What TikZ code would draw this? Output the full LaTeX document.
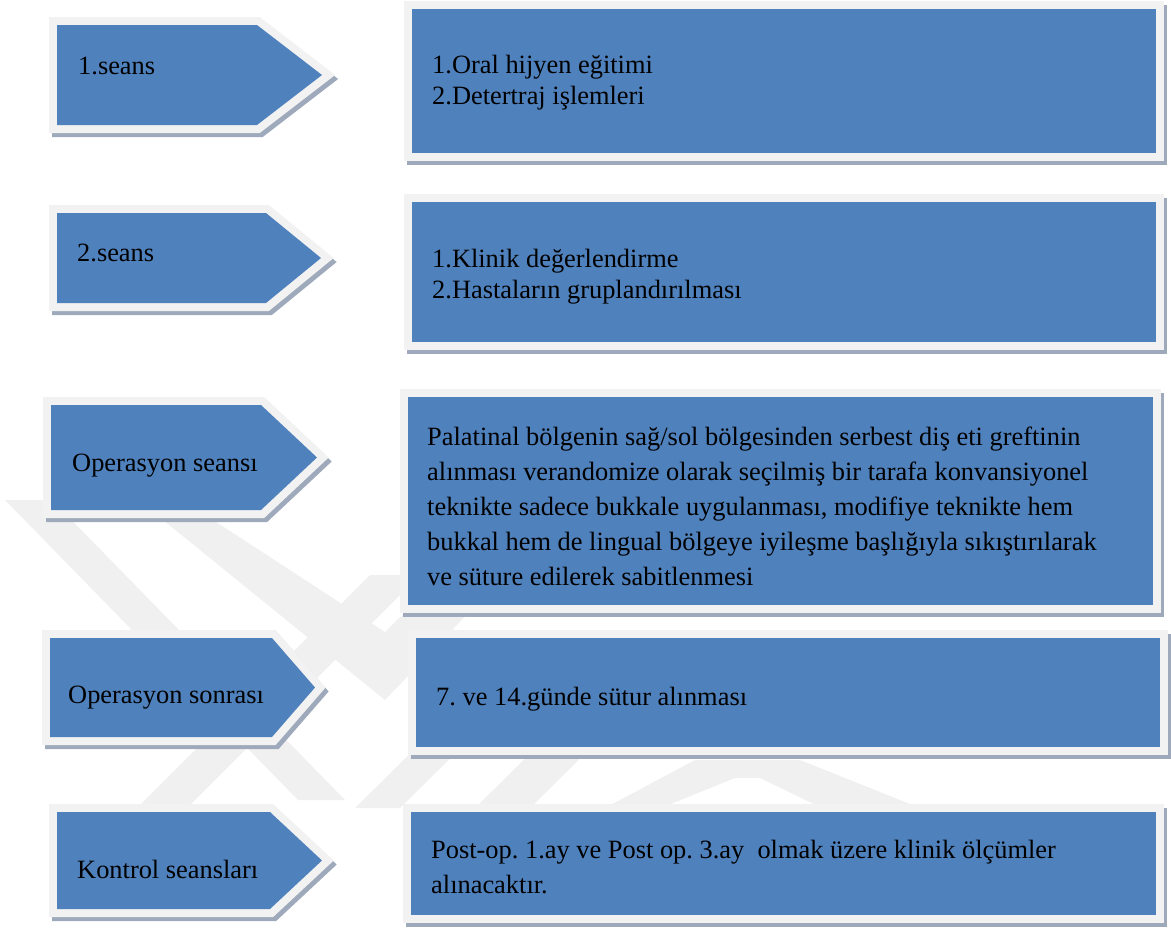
\documentclass[tikz,border=0pt]{standalone}
\usepackage{fontspec}
\setmainfont{Liberation Serif}
\frenchspacing
\definecolor{boxblue}{HTML}{4F81BD}
\definecolor{rim}{HTML}{F2F2F2}
\definecolor{shade}{HTML}{9EAABB}
\definecolor{wm}{HTML}{F0F0F0}
\tikzset{
  panel/.style={fill=boxblue,
    preaction={draw=shade, line width=16pt, line join=miter, transform canvas={xshift=3pt,yshift=-4pt}},
    preaction={draw=rim, line width=16pt, line join=miter}},
  txt/.style={anchor=base west, inner sep=0pt, font=\fontsize{26.4}{30.5}\selectfont, align=left},
  txtwide/.style={txt, font=\fontsize{26.4}{34.8}\selectfont},
}
\newcommand\pentpanel[5]{\path[panel] (#1,#2) -- (#3,#2) -- (#4,{(#2+#5)/2}) -- (#3,#5) -- (#1,#5) -- cycle;}
\newcommand\rectpanel[4]{\path[panel] (#1,#2) rectangle (#3,#4);}
\begin{document}
\begin{tikzpicture}[x=1pt,y=-1pt]
\useasboundingbox (0,0) rectangle (1171,930);
% watermark (faint)
\fill[wm] (5,500) -- (52,500) -- (345,800) -- (298,800) -- cycle;
\fill[wm] (163,520) -- (213,520) -- (385,632) -- (560,460) -- (615,460) -- (385,700) -- cycle;
\fill[wm] (140,805) -- (190,805) -- (420,575) -- (370,575) -- cycle;
\fill[wm] (355,808) -- (400,808) -- (560,650) -- (515,650) -- cycle;
\fill[wm] (475,808) -- (530,808) -- (680,660) -- (625,660) -- cycle;
\fill[wm] (605,808) -- (695,760) -- (800,760) -- (920,808) -- (822,808) -- (760,778) -- (735,778) -- (661,808) -- cycle;
% pentagons
\pentpanel{57}{25}{257}{322}{125}
\pentpanel{57}{213}{266}{321}{303}
\pentpanel{51}{405}{261}{317}{510}
\pentpanel{50}{638}{272}{315}{737}
\pentpanel{57}{812}{270}{322}{909}
% rectangles
\rectpanel{412}{9}{1156}{153}
\rectpanel{412}{202}{1156}{342}
\rectpanel{408}{397}{1153}{605}
\rectpanel{416}{638}{1160}{747}
\rectpanel{411}{812}{1156}{915}
% texts (multi-line nodes anchored on the baseline of their last line)
\node[txt] (s1) at (78,74) {1.seans};
\node[txt] (s2) at (77,261) {2.seans};
\node[txt] (s3) at (72,471) {Operasyon seansı};
\node[txt] (s4) at (68,703) {Operasyon sonrası};
\node[txt] (s5) at (77,878) {Kontrol seansları};
\node[txt] (r1) at (432,104) {1.Oral hijyen eğitimi\\2.Detertraj işlemleri};
\node[txt] (r2) at (432,298) {1.Klinik değerlendirme\\2.Hastaların gruplandırılması};
\node[txtwide] (r3) at (427,585) {Palatinal bölgenin sağ/sol bölgesinden serbest diş eti greftinin\\alınması verandomize olarak seçilmiş bir tarafa konvansiyonel\\teknikte sadece bukkale uygulanması, modifiye teknikte hem\\bukkal hem de lingual bölgeye iyileşme başlığıyla sıkıştırılarak\\ve süture edilerek sabitlenmesi};
\node[txt] (r4) at (436,705) {7. ve 14.günde sütur alınması};
\node[txtwide] (r5) at (431,893) {Post-op. 1.ay ve Post op. 3.ay\ \ olmak üzere klinik ölçümler\\alınacaktır.};
\end{tikzpicture}
\end{document}
